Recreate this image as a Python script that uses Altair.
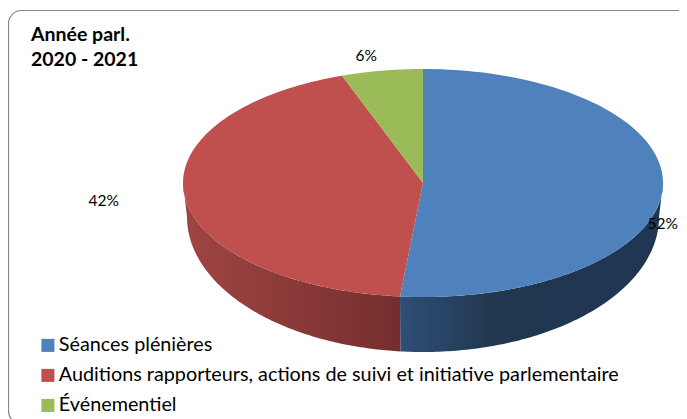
import math
import altair as alt
import pandas as pd

categories = ["Séances plénières", "Auditions rapporteurs, actions de suivi et initiative parlementaire", "Événementiel"]
shares = [52, 42, 6]
labels = ["52%", "42%", "6%"]
colors = ["#4f81bd", "#c0504d", "#9bbb59"]
view_shift_deg = [0, -1.7, 1.9, 0]   # perspective of the tilted disc

W, H = 671, 411
OX, OY = 8, 8          # page margin
CX, CY, RX, RY = 423, 183, 240, 114
BY, BRX, BRY = 217, 236, 135

def px(x): return x - OX
def py(y): return y - OY

def ell(a, cy=CY, rx=RX, ry=RY):
    return (CX + rx * math.sin(a), cy - ry * math.cos(a))

def arc(a0, a1, n=120, **kw):
    return [ell(a0 + (a1 - a0) * i / n, **kw) for i in range(n + 1)]

xs = alt.X("x:Q", scale=alt.Scale(domain=[0, W], range=[0, W]), axis=None)
ys = alt.Y("y:Q", scale=alt.Scale(domain=[0, H], range=[0, H]), axis=None)

def frame(points, **extra):
    rows = [{"x": px(a), "y": py(b), "i": i, **extra} for i, (a, b) in enumerate(points)]
    return pd.DataFrame(rows)

def poly(points, **mark):
    return alt.Chart(frame(points)).mark_line(interpolate="linear", clip=True, **mark).encode(
        x=xs, y=ys, order="i:Q")

# cumulative angles, clockwise from 12 o'clock
edges = [0.0]
for s in shares:
    edges.append(edges[-1] + s / sum(shares) * 2 * math.pi)
edges = [e + math.radians(d) for e, d in zip(edges, view_shift_deg)]

layers = []

# card border (runs off the picture on the right and at the bottom)
card = pd.DataFrame({"x": [px(8.5)], "x2": [px(692)], "y": [py(10.5)], "y2": [py(424)]})
layers.append(alt.Chart(card).mark_rect(fill="white", stroke="#868686", strokeWidth=1.2, cornerRadius=13, clip=True).encode(
    x=xs, x2="x2:Q", y=ys, y2="y2:Q"))

# title
ttl = pd.DataFrame({"x": [px(31), px(31)], "y": [py(35), py(60)], "t": ["Année parl.", "2020 - 2021"]})
layers.append(alt.Chart(ttl).mark_text(font="Lato", fontSize=19.5, fontWeight="bold", align="left", color="#000000").encode(
    x=xs, y=ys, text="t:N"))

# side walls: front part of the outer edge
def wall(a0, a1):
    top = arc(a0, a1)
    bot = arc(a1, a0, cy=BY, rx=BRX, ry=BRY)
    return top + bot

def grad(stops):
    return alt.Gradient(gradient="linear", x1=0, y1=0, x2=1, y2=0,
                        stops=[alt.GradientStop(offset=o, color=c) for o, c in stops])

front = math.pi / 2
layers.append(poly(wall(front, edges[1]), fill=grad([(0, "#2f4f78"), (0.35, "#21374f"), (1, "#1f3552")]), strokeWidth=0))
layers.append(poly(wall(edges[1], 3 * math.pi / 2), fill=grad([(0, "#a04543"), (1, "#752e2d")]), strokeWidth=0))

# top faces
rows = []
for k, name in enumerate(categories):
    pts = [(CX, CY)] + arc(edges[k], edges[k + 1]) + [(CX, CY)]
    rows.append(frame(pts, cat=name))
top = pd.concat(rows, ignore_index=True)
legend = alt.Legend(orient="none", legendX=px(38), legendY=py(335.5), title=None, symbolType="square",
                    symbolSize=170, symbolStrokeWidth=0, labelFont="Lato", labelFontSize=19.8, labelColor="#000000",
                    rowPadding=9, labelOffset=1, labelLimit=640, symbolOffset=0)
layers.append(alt.Chart(top).mark_line(interpolate="linear", strokeWidth=0).encode(
    x=xs, y=ys, order="i:Q", detail="cat:N",
    fill=alt.Fill("cat:N", scale=alt.Scale(domain=categories, range=colors), legend=legend)))

# percentage labels; the right one is pulled in so that it stays inside the picture
lab = pd.DataFrame({"x": [px(678), px(119), px(377)], "y": [py(224), py(201), py(56)], "t": labels})
layers.append(alt.Chart(lab).mark_text(font="Lato", fontSize=15.5, color="#000000", align="right").encode(x=xs, y=ys, text="t:N"))

chart = alt.layer(*layers).properties(
    width=W, height=H, padding=0, autosize=alt.AutoSizeParams(type="none"), background="white",
).configure_view(stroke=None)

chart.save("out.html", embed_options={"renderer": "svg", "actions": False})
